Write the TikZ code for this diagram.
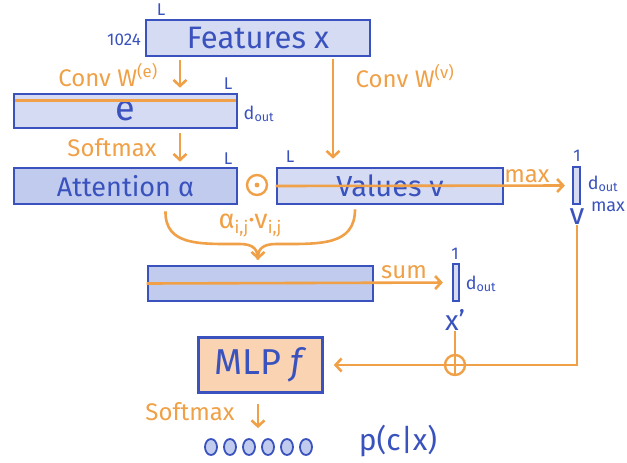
\documentclass[tikz,border=0pt]{standalone}
\usepackage{fontspec}
\setmainfont{Fira Sans}
\usetikzlibrary{arrows.meta,calc,shapes.geometric}
\definecolor{bl}{RGB}{58,82,190}
\definecolor{og}{RGB}{240,160,70}
\definecolor{lb}{RGB}{212,219,242}
\definecolor{lb2}{RGB}{192,203,238}
\definecolor{lo}{RGB}{250,212,178}
\tikzset{
  box/.style={draw=bl, line width=2.6pt, fill=lb, inner sep=0pt, text=bl},
  dbox/.style={box, fill=lb2},
  olin/.style={draw=og, line width=2.6pt},
  oarr/.style={olin, -{Straight Barb[length=6pt,width=13pt]}},
  olab/.style={text=og, inner sep=0pt, font=\fontsize{24}{26}\selectfont},
  blab/.style={text=bl, inner sep=0pt, font=\fontsize{17}{18}\selectfont},
  dlab/.style={text=bl, inner sep=0pt, font=\fontsize{18}{19}\selectfont},
  bbig/.style={text=bl, inner sep=0pt, font=\fontsize{30}{32}\selectfont},
  ocirc/.style={circle, draw=og, line width=2.4pt, minimum size=20pt, inner sep=0pt},
  outdot/.style={ellipse, draw=bl, fill=lb2, line width=1.8pt, minimum width=12pt, minimum height=16pt, inner sep=0pt},
}
\begin{document}
\begin{tikzpicture}[x=1pt,y=-1pt]
\useasboundingbox (0,0) rectangle (627,463);
% boxes
\node[box, minimum width=224pt, minimum height=36pt, font=\fontsize{31}{32}\selectfont] (feat) at (258,38) {Features x};
\node[box, minimum width=223pt, minimum height=34pt, font=\fontsize{36}{36}\selectfont] (e) at (125.5,111) {e};
\node[dbox, minimum width=223pt, minimum height=36pt, font=\fontsize{27}{28}\selectfont] (att) at (125.5,186) {Attention α};
\node[box, minimum width=226pt, minimum height=36pt, font=\fontsize{29}{30}\selectfont] (val) at (390,186) {Values v};
\node[box, minimum width=7pt, minimum height=37pt, line width=2.2pt] (vmax) at (576.5,185.5) {};
\node[dbox, minimum width=225pt, minimum height=35pt] (sum) at (260.5,283.5) {};
\node[box, minimum width=6pt, minimum height=37pt, line width=2.2pt] (xp) at (456,282.5) {};
\node[box, fill=lo, minimum width=124pt, minimum height=55pt, font=\fontsize{36}{38}\selectfont] (mlp) at (260.5,365) {MLP \textit{f}};
% small labels
\node[blab] (l1) at (161,10) {L};
\node[blab] (n1024) at (124,40) {1024};
\node[blab] (l2) at (228,84) {L};
\node[dlab] (d1) at (259,114) {d\textsubscript{out}};
\node[blab] (l3) at (228,159) {L};
\node[blab] (l4) at (290,157) {L};
\node[blab] (one1) at (577,156) {1};
\node[dlab] (d2) at (603,184) {d\textsubscript{out}};
\node[bbig] (vlab) at (577,217) {v};
\node[blab, font=\fontsize{18}{19}\selectfont] (vmaxlab) at (608,207) {max};
\node[blab] (one2) at (455,254) {1};
\node[dlab] (d3) at (481,284) {d\textsubscript{out}};
\node[bbig, font=\fontsize{28}{30}\selectfont] (xlab) at (455,320) {x'};
\node[bbig] (pcx) at (398,441) {p(c|x)};
% orange labels
\node[olab] (convE) at (108,75) {Conv W\textsuperscript{(e)}};
\node[olab] (sm1) at (112,148) {Softmax};
\node[olab] (convV) at (405,76) {Conv W\textsuperscript{(v)}};
\node[olab] (maxlab) at (527,176) {max};
\node[olab] (sumlab) at (404,272) {sum};
\node[olab] (sm2) at (190,412) {Softmax};
\node[olab, font=\fontsize{27}{28}\selectfont] (alab) at (250,226) {α\raisebox{-0.35ex}{\fontsize{17}{17}\selectfont i,j}·v\raisebox{-0.35ex}{\fontsize{17}{17}\selectfont i,j}};
% operators
\node[ocirc] (odot) at (257,185) {};
\fill[og] (odot.center) circle (2.4pt);
\node[ocirc] (oplus) at (455,365) {};
% outputs
\foreach \i in {0,...,5} \node[outdot] (o\i) at ({211+19*\i},447) {};
% connectors
\coordinate (cx1) at (180,0);
\coordinate (cx2) at (333,0);
\coordinate (cx3) at (258,0);
\draw[oarr, shorten <=3pt, shorten >=5pt] (feat.south -| cx1) -- (e.north -| cx1);
\draw[oarr, shorten <=2pt, shorten >=8pt] (feat.south -| cx2) -- (val.north -| cx2);
\draw[oarr, shorten <=4pt, shorten >=5pt] (e.south -| cx1) -- (att.north -| cx1);
\draw[olin] ([xshift=2pt,yshift=-8pt]e.north west) -- ([xshift=-2pt,yshift=-8pt]e.north east);
\draw[oarr, shorten >=7pt] (val.west) -- (vmax.west);
\draw[oarr, shorten >=9pt] (sum.west) -- (xp.west);
\draw[olin] (vlab.south) |- (oplus.east) -- (oplus.west);
\draw[oarr, shorten >=10pt] (oplus.west) -- (mlp.east);
\draw[olin] (xlab.south) -- (oplus.south);
\draw[oarr, shorten <=10pt, shorten >=10pt] (mlp.south -| cx3) -- (cx3 |- o2.north);
% brace
\draw[olin] ([xshift=40pt,yshift=-6pt]att.south) .. controls (165,246) and (200,244) .. (240,244) .. controls (254,244) and (258,250) .. ([xshift=-2.5pt,yshift=5pt]sum.north);
\draw[oarr] ([xshift=-35pt,yshift=-4pt]val.south) .. controls (355,246) and (320,244) .. (276,244) .. controls (262,244) and (258,250) .. ([xshift=-2.5pt,yshift=5pt]sum.north);
\end{tikzpicture}
\end{document}
